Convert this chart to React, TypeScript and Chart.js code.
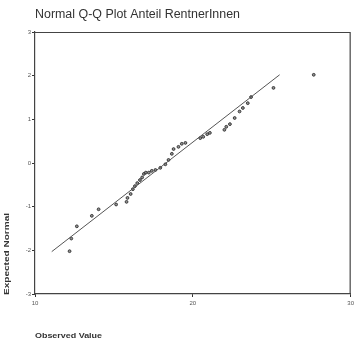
import React, { useEffect, useRef } from "react";
import { Chart, registerables } from "chart.js";

Chart.register(...registerables);

// Observed values (x) and their expected normal quantiles (y)
const observedValues = [
  12.19, 12.3, 12.65, 13.6, 14.03, 15.14, 15.8, 15.86, 16.06, 16.2, 16.33,
  16.48, 16.65, 16.79, 16.9, 17.02, 17.21, 17.4, 17.63, 17.94, 18.26, 18.46,
  18.67, 18.78, 19.09, 19.3, 19.53, 20.47, 20.66, 20.91, 21.08, 22.0, 22.12,
  22.35, 22.65, 22.96, 23.17, 23.48, 23.69, 25.11, 27.66,
];
const expectedNormal = [
  -2.02, -1.73, -1.45, -1.21, -1.06, -0.95, -0.89, -0.8, -0.71, -0.6, -0.53,
  -0.46, -0.39, -0.33, -0.25, -0.22, -0.22, -0.18, -0.16, -0.11, -0.03, 0.07,
  0.21, 0.32, 0.37, 0.44, 0.46, 0.57, 0.6, 0.66, 0.69, 0.76, 0.83, 0.89, 1.03,
  1.18, 1.26, 1.37, 1.51, 1.72, 2.02,
];

// Reference line endpoints
const refLineX = [11.06, 25.5];
const refLineY = [-2.03, 2.02];

const xTicks = [10, 20, 30];
const yTicks = [-3, -2, -1, 0, 1, 2, 3];

const chartTitle = "Normal Q-Q Plot Anteil RentnerInnen";
const xTitle = "Observed Value";
const yTitle = "Expected Normal";

const textColor = "#333";
const fontFamily = '"Liberation Sans", Arial, sans-serif';

// Draws text stretched horizontally to a given width
function drawStretched(
  ctx: CanvasRenderingContext2D,
  text: string,
  x: number,
  y: number,
  width: number,
  font: string
) {
  ctx.save();
  ctx.font = font;
  const w = ctx.measureText(text).width;
  ctx.translate(x, y);
  ctx.scale(width / w, 1);
  ctx.textAlign = "left";
  ctx.textBaseline = "middle";
  ctx.fillText(text, 0, 0);
  ctx.restore();
}

const framePlugin = {
  id: "frameAndLabels",
  afterDraw(chart: any) {
    const { ctx, chartArea } = chart;
    ctx.save();
    ctx.strokeStyle = "#444";
    ctx.lineWidth = 1.2;
    ctx.beginPath();
    ctx.moveTo(chartArea.left, chartArea.top + 0.5);
    ctx.lineTo(chartArea.right - 0.5, chartArea.top + 0.5);
    ctx.lineTo(chartArea.right - 0.5, chartArea.bottom);
    ctx.stroke();

    ctx.fillStyle = textColor;
    drawStretched(ctx, chartTitle, 35, 15, 205, `12px ${fontFamily}`);
    drawStretched(ctx, xTitle, 35, 336, 67, `bold 8px ${fontFamily}`);

    // vertical axis title, reading bottom to top
    ctx.save();
    ctx.translate(7, 295);
    ctx.rotate(-Math.PI / 2);
    drawStretched(ctx, yTitle, 0, 0, 82, `bold 7px ${fontFamily}`);
    ctx.restore();
    ctx.restore();
  },
};

export default function App() {
  const canvasRef = useRef<HTMLCanvasElement | null>(null);

  useEffect(() => {
    if (!canvasRef.current) return;
    const points = observedValues.map((x, i) => ({ x, y: expectedNormal[i] }));
    const line = refLineX.map((x, i) => ({ x, y: refLineY[i] }));

    const chart = new Chart(canvasRef.current, {
      type: "scatter",
      data: {
        datasets: [
          {
            type: "line",
            data: line,
            borderColor: "#555",
            borderWidth: 1,
            pointRadius: 0,
            showLine: true,
            fill: false,
          } as any,
          {
            data: points,
            pointRadius: 1.4,
            pointBackgroundColor: "rgba(70,70,70,0.6)",
            pointBorderColor: "#3a3a3a",
            pointBorderWidth: 1,
          },
        ],
      },
      options: {
        responsive: false,
        animation: false,
        devicePixelRatio: 1,
        layout: { padding: { top: 32, right: 3, left: 0, bottom: 0 } },
        plugins: {
          legend: { display: false },
          title: { display: false },
          tooltip: { enabled: false },
        },
        scales: {
          x: {
            type: "linear",
            min: 10,
            max: 30,
            afterBuildTicks: (s: any) => {
              s.ticks = xTicks.map((v) => ({ value: v }));
            },
            afterFit: (s: any) => {
              s.height = 53;
            },
            ticks: {
              color: "#555",
              font: { size: 6, family: fontFamily },
              padding: 3,
              maxRotation: 0,
            },
            grid: {
              drawOnChartArea: false,
              drawTicks: true,
              tickLength: 3,
              color: "#333",
            },
            border: { display: true, color: "#444", width: 1.2 },
          },
          y: {
            type: "linear",
            min: -3,
            max: 3,
            afterBuildTicks: (s: any) => {
              s.ticks = yTicks.map((v) => ({ value: v }));
            },
            afterFit: (s: any) => {
              s.width = 35;
            },
            ticks: {
              color: "#555",
              font: { size: 6, family: fontFamily },
              padding: 1,
            },
            grid: {
              drawOnChartArea: false,
              drawTicks: true,
              tickLength: 3,
              color: "#333",
            },
            border: { display: true, color: "#444", width: 1.2 },
          },
        },
      },
      plugins: [framePlugin],
    });
    return () => chart.destroy();
  }, []);

  return (
    <div style={{ position: "fixed", left: 0, top: 0, width: 357, height: 347, background: "#fff" }}>
      <canvas ref={canvasRef} width={357} height={347} />
    </div>
  );
}
